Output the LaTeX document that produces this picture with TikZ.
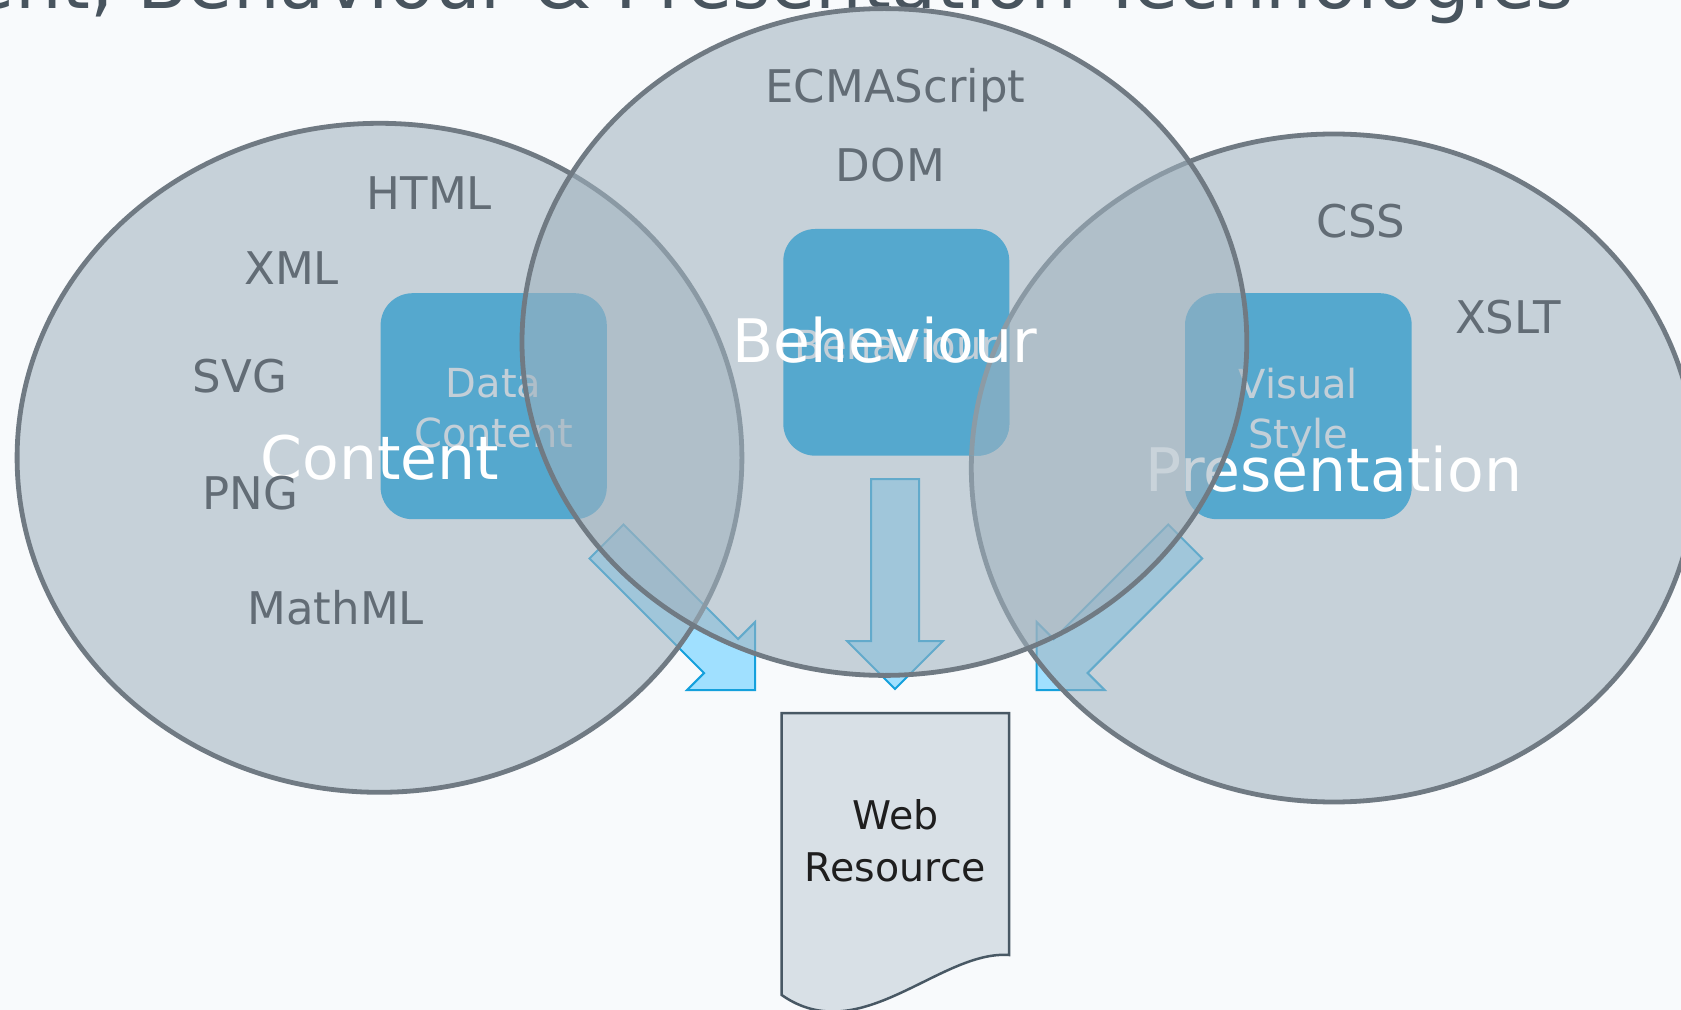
\documentclass[tikz,border=0pt]{standalone}
\usepackage{fontspec}
\setmainfont{DejaVu Sans}

% palette
\definecolor{pagebg}{RGB}{248,250,252}
\definecolor{setfill}{RGB}{160,178,190}
\definecolor{setline}{RGB}{112,122,131}
\definecolor{setlinetint}{RGB}{140,155,165}
\definecolor{boxblue}{RGB}{85,168,206}
\definecolor{boxtext}{RGB}{195,207,216}
\definecolor{techtext}{RGB}{98,108,117}
\definecolor{titletext}{RGB}{72,84,94}
\definecolor{arrowfill}{RGB}{160,224,255}
\definecolor{arrowline}{RGB}{20,160,220}
\definecolor{docfill}{RGB}{216,224,230}
\definecolor{docline}{RGB}{72,88,100}
\definecolor{doctext}{RGB}{30,30,30}

\tikzset{
  techset/.style={fill=setfill, fill opacity=0.56, draw=setline, draw opacity=1, line width=2.4pt},
  techtint/.style={fill=setfill, fill opacity=0.56},
  rolebox/.style={fill=boxblue, rounded corners=16pt},
  biglabel/.style={text=white, font=\fontsize{30}{36}\selectfont, inner sep=0pt},
  techlabel/.style={text=techtext, font=\fontsize{22.5}{27}\selectfont, inner sep=0pt, anchor=base},
  boxlabel/.style={text=boxtext, font=\fontsize{20}{25}\selectfont, align=center, inner sep=0pt},
  flow/.style={fill=arrowfill, draw=arrowline, line width=1pt, line join=miter},
  blockarrow/.pic={
    \path[flow] (-24,-210) -- (24,-210) -- (24,-48) -- (48,-48) -- (0,0)
      -- (-48,-48) -- (-24,-48) -- cycle;
  }
}

\begin{document}
\begin{tikzpicture}[x=0.5pt, y=-0.5pt]
  \useasboundingbox (0,0) rectangle (1681,1010);
  \clip (0,0) rectangle (1681,1010);
  \fill[pagebg] (0,0) rectangle (1681,1010);

  % slide heading
  \node[anchor=base east, inner sep=0pt, text=titletext,
        font=\fontsize{36.8}{44}\selectfont] (title) at (1574,8.5)
        {Content, Behaviour \& Presentation Technologies};

  % flow arrows into the web resource
  \pic (arrL) [rotate=45] at (755,690) {blockarrow};
  \pic (arrM) at (895,689) {blockarrow};
  \pic (arrR) [rotate=-45] at (1036.7,690) {blockarrow};

  % content set
  \path[techset] (379.5,457.8) ellipse [x radius=181.2pt, y radius=167.25pt];
  \path[rolebox] (380.6,293.2) rectangle (606.8,519.2);
  \node[boxlabel] (datacontent) at (493.7,408) {Data\\Content};
  \node[biglabel] (content) at (380,457.5) {Content};
  \node[techlabel] (html) at (429.4,209.5) {HTML};
  \node[techlabel] (xml) at (291.6,284.5) {XML};
  \node[techlabel] (svg) at (240.1,392.8) {SVG};
  \node[techlabel] (png) at (250.3,509.7) {PNG};
  \node[techlabel] (mathml) at (335.8,624) {MathML};

  % presentation set
  \path[techset] (1333.7,468) ellipse [x radius=181.2pt, y radius=167pt];
  \path[rolebox] (1185,293.2) rectangle (1411.7,519.2);
  \node[boxlabel] (visualstyle) at (1298.3,412.5) {Visual\\Style};
  \node[biglabel] (presentation) at (1333.6,469.6) {Presentation};
  \node[techlabel] (css) at (1361,237.3) {CSS};
  \node[techlabel] (xslt) at (1507.9,333.8) {XSLT};

  % behaviour set
  \path[techset] (884.4,342) ellipse [x radius=181.2pt, y radius=166.7pt];
  \path[rolebox] (783.3,229) rectangle (1009.3,455.7);
  \node[boxlabel] (behaviourbox) at (896.3,344.8) {Behaviour};
  \begin{scope}
    \clip[rounded corners=16pt] (783.3,229) rectangle (1009.3,455.7);
    \path[techtint] (1333.7,468) ellipse [x radius=181.2pt, y radius=167pt];
    \path[draw=setlinetint, line width=2.4pt] (1333.7,468) ellipse [x radius=181.2pt, y radius=167pt];
  \end{scope}
  \node[techlabel] (ecma) at (895.5,103) {ECMAScript};
  \node[techlabel] (dom) at (890.4,182) {DOM};
  \node[biglabel] (behaviour) at (885,340) {Beheviour};

  % resulting document
  \path[fill=docfill, draw=docline, line width=1.25pt]
    (781.7,713) -- (1009,713) -- (1009,955)
    .. controls (940,950) and (860,1050) .. (781.7,995) -- cycle;
  \node[align=center, inner sep=0pt, text=doctext,
        font=\fontsize{19.75}{25.85}\selectfont] (webres) at (895.4,841) {Web\\Resource};
\end{tikzpicture}
\end{document}
